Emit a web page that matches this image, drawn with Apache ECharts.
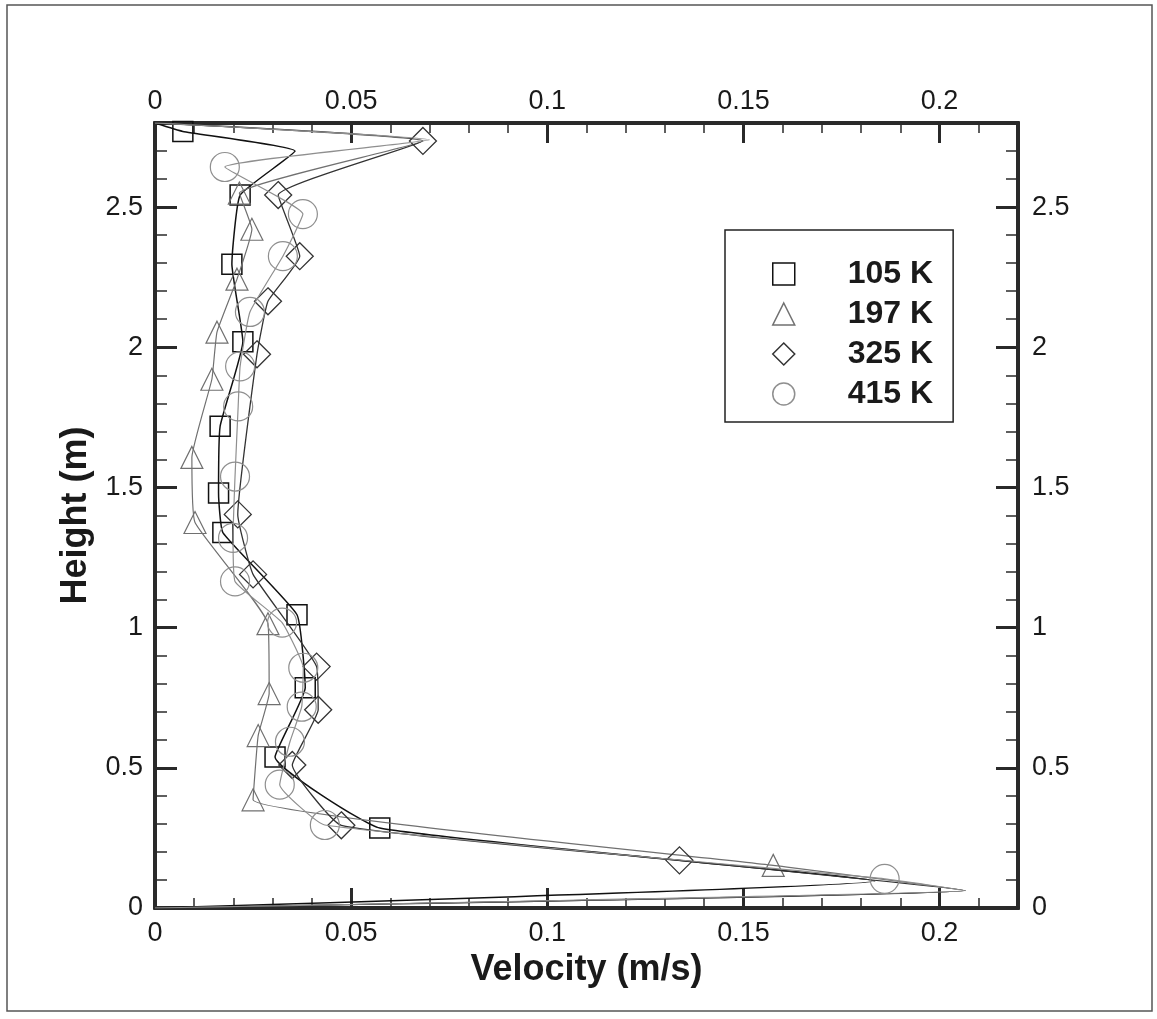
<!DOCTYPE html>
<html>
<head>
<meta charset="utf-8">
<script src="https://cdn.jsdelivr.net/npm/echarts@6/dist/echarts.min.js"></script>
<style>
html,body{margin:0;padding:0;background:#fff;}
#chart{width:1157px;height:1019px;}
</style>
</head>
<body>
<div id="chart"></div>
<script>
// ---- data (velocity m/s, height m) ----
const seriesNames = ['105 K', '197 K', '325 K', '415 K'];
const xTickLabels = ['0', '0.05', '0.1', '0.15', '0.2'];
const yTickLabels = ['0', '0.5', '1', '1.5', '2', '2.5'];

const data105 = [[0,0],[0.1835,0.096],[0.0573,0.285],[0.0306,0.539],[0.0383,0.786],[0.0362,1.046],[0.0173,1.339],[0.0162,1.48],[0.0166,1.718],[0.0224,2.02],[0.0196,2.296],[0.0217,2.543],[0.0357,2.70],[0.0071,2.77],[0,2.8]];
const hidden105 = [0,1,12,14];

const data197 = [[0,0],[0.2066,0.062],[0.1576,0.152],[0.025,0.386],[0.0263,0.615],[0.0291,0.765],[0.0288,1.014],[0.0102,1.375],[0.0094,1.607],[0.0145,1.886],[0.0158,2.054],[0.0209,2.243],[0.0247,2.421],[0.0215,2.55],[0.068,2.735],[0,2.8]];
const hidden197 = [0,1,14,15];

const data325 = [[0,0],[0.2066,0.062],[0.1337,0.170],[0.0475,0.295],[0.035,0.51],[0.0416,0.707],[0.0412,0.861],[0.025,1.19],[0.0211,1.404],[0.026,1.975],[0.0288,2.164],[0.0369,2.325],[0.0314,2.543],[0.0683,2.736],[0,2.8]];
const hidden325 = [0,1,14];

const data415 = [[0,0],[0.2066,0.062],[0.186,0.104],[0.0433,0.296],[0.0318,0.44],[0.0344,0.593],[0.0374,0.718],[0.0378,0.857],[0.0324,1.018],[0.0204,1.165],[0.0199,1.32],[0.0204,1.539],[0.0212,1.789],[0.0217,1.932],[0.0242,2.126],[0.0326,2.325],[0.0377,2.475],[0.0178,2.643],[0.07,2.74],[0,2.8]];
const hidden415 = [0,1,18,19];

const X_MIN = 0, X_MAX = 0.22, Y_MIN = 0, Y_MAX = 2.8;

// ---- styling ----
const FONT = '"Liberation Sans", Arial, sans-serif';
const AXIS_COLOR = '#2a2a2a';
const styles = [
  {symbol:'rect', size:20, color:'#111111', lw:1.5},
  {symbol:'triangle', size:22, color:'#707070', lw:1.2},
  {symbol:'diamond', size:27, color:'#333333', lw:1.3},
  {symbol:'circle', size:29, color:'#8f8f8f', lw:1.2}
];
const allData = [data105, data197, data325, data415];
const allHidden = [hidden105, hidden197, hidden325, hidden415];

function fmt(list){
  return function(v){
    const s = String(Math.round(v*1000)/1000);
    return list.indexOf(s) >= 0 ? s : '';
  };
}

function xAxisDef(pos, major){
  return {
    type:'value', position:pos, min:X_MIN, max:X_MAX,
    interval: major ? 0.05 : 0.01,
    splitLine:{show:false},
    axisLine:{show:true, onZero:false, lineStyle:{color:AXIS_COLOR, width:4}},
    axisTick:{show:true, inside:true, length: major ? 20 : 10, lineStyle:{color:AXIS_COLOR, width: major?3:1.5}},
    axisLabel:{show:major, showMaxLabel:false, margin: pos==='bottom'?12:8, fontSize:27, color:'#1a1a1a', fontFamily:FONT, formatter: fmt(xTickLabels)},
    name: (major && pos==='bottom') ? 'Velocity (m/s)' : '',
    nameLocation:'middle', nameGap:38,
    nameTextStyle:{fontSize:36, fontWeight:'bold', color:'#1a1a1a', fontFamily:FONT}
  };
}
function yAxisDef(pos, major){
  return {
    type:'value', position:pos, min:Y_MIN, max:Y_MAX,
    interval: major ? 0.5 : 0.1,
    splitLine:{show:false},
    axisLine:{show:true, onZero:false, lineStyle:{color:AXIS_COLOR, width:4}},
    axisTick:{show:true, inside:true, length: major ? 22 : 12, lineStyle:{color:AXIS_COLOR, width: major?3:1.5}},
    axisLabel:{show:major, showMaxLabel:false, margin: pos==='left'?12:14, fontSize:27, color:'#1a1a1a', fontFamily:FONT, formatter: fmt(yTickLabels)},
    name: (major && pos==='left') ? 'Height (m)' : '',
    nameLocation:'middle', nameGap:60,
    nameTextStyle:{fontSize:36, fontWeight:'bold', color:'#1a1a1a', fontFamily:FONT}
  };
}

const series = allData.map(function(d, i){
  const st = styles[i];
  return {
    name: seriesNames[i], type:'line', xAxisIndex:0, yAxisIndex:0,
    symbol: st.symbol, symbolSize: st.size, showAllSymbol:true,
    smooth: 0.12, clip:true, z: 3+i,
    lineStyle:{color: st.color, width: st.lw},
    itemStyle:{color:'rgba(0,0,0,0)', borderColor: st.color, borderWidth: st.lw},
    emphasis:{disabled:true},
    data: d.map(function(p, k){
      const item = {value: p};
      if (allHidden[i].indexOf(k) >= 0) item.symbol = 'none';
      return item;
    })
  };
});

const chart = echarts.init(document.getElementById('chart'), null, {renderer:'canvas'});
chart.setOption({
  backgroundColor:'#ffffff',
  animation:false,
  grid:{left:155, right:139, top:123, bottom:111, containLabel:false},
  xAxis:[xAxisDef('bottom', true), xAxisDef('bottom', false), xAxisDef('top', true), xAxisDef('top', false)],
  yAxis:[yAxisDef('left', true), yAxisDef('left', false), yAxisDef('right', true), yAxisDef('right', false)],
  legend:{
    left:725, top:230, orient:'vertical',
    padding:[28, 20, 12, 47],
    itemWidth:22, itemHeight:22, itemGap:8,
    borderColor:'#222', borderWidth:1.5, backgroundColor:'#fff',
    selectedMode:false,
    textStyle:{fontSize:32, fontWeight:'bold', color:'#1a1a1a', fontFamily:FONT, padding:[0,0,0,48]},
    data: seriesNames.map(function(n, i){
      return {name:n, icon: styles[i].symbol,
        itemStyle:{color:'rgba(0,0,0,0)', borderColor: styles[i].color, borderWidth:1.5}};
    })
  },
  graphic:[{type:'rect', shape:{x:7, y:5, width:1145, height:1006}, style:{fill:'none', stroke:'#555', lineWidth:1.5}, silent:true, z:-1}],
  series: series
});
</script>
</body>
</html>
